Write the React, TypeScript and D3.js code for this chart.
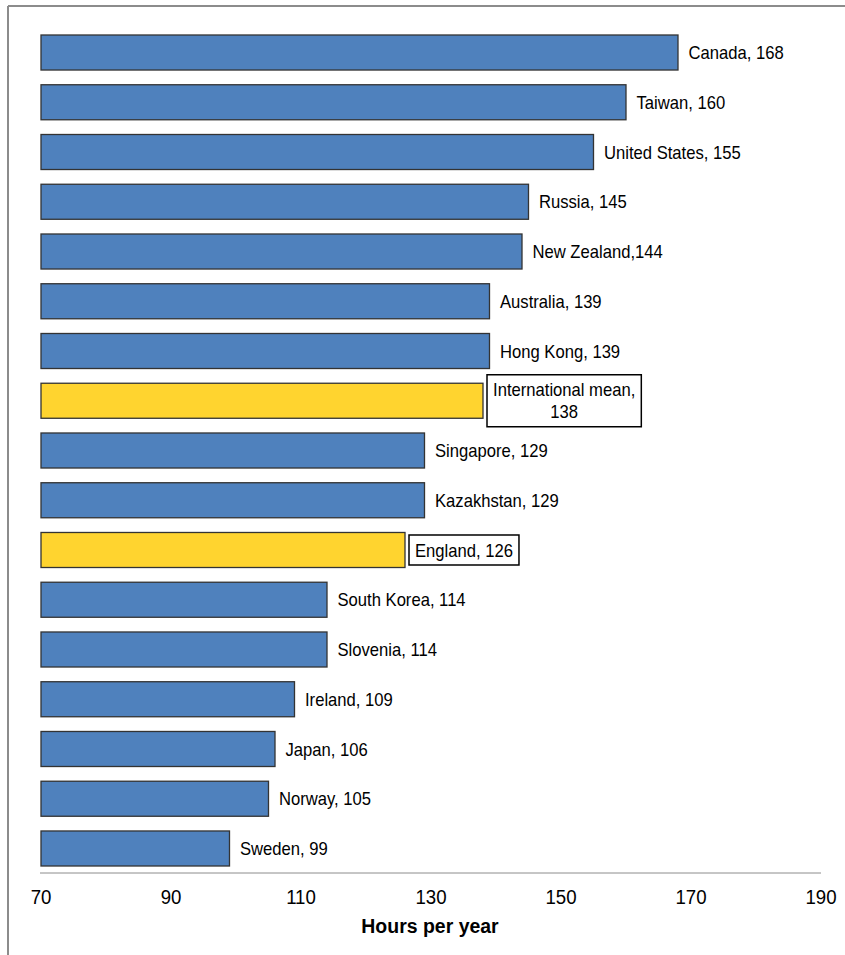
import React from "react";
import * as d3 from "d3";

const countries = [
  "Canada", "Taiwan", "United States", "Russia", "New Zealand", "Australia",
  "Hong Kong", "International mean", "Singapore", "Kazakhstan", "England",
  "South Korea", "Slovenia", "Ireland", "Japan", "Norway", "Sweden",
];
const hours = [168, 160, 155, 145, 144, 139, 139, 138, 129, 129, 126, 114, 114, 109, 106, 105, 99];
const highlighted = [false, false, false, false, false, false, false, true, false, false, true, false, false, false, false, false, false];
const labelLines = [
  ["Canada, 168"], ["Taiwan, 160"], ["United States, 155"], ["Russia, 145"],
  ["New Zealand,144"], ["Australia, 139"], ["Hong Kong, 139"],
  ["International mean,", "138"], ["Singapore, 129"], ["Kazakhstan, 129"],
  ["England, 126"], ["South Korea, 114"], ["Slovenia, 114"], ["Ireland, 109"],
  ["Japan, 106"], ["Norway, 105"], ["Sweden, 99"],
];
const xTicks = [70, 90, 110, 130, 150, 170, 190];
const xTitle = "Hours per year";

const W = 845;
const H = 955;
const FONT = "'Liberation Sans', Arial, sans-serif";

function measure(text: string, size: number): number {
  // approximate Arial widths
  const widths: Record<string, number> = {
    " ": 0.278, ",": 0.278, "I": 0.278, "i": 0.222, "l": 0.222, "t": 0.278, "r": 0.333,
    "m": 0.833, "f": 0.278, "j": 0.222,
  };
  let w = 0;
  for (const c of text) {
    if (widths[c] !== undefined) w += widths[c];
    else if (c >= "A" && c <= "Z") w += 0.667;
    else w += 0.556;
  }
  return w * size;
}

type TProps = {
  x: number; y: number; sx: number; size: number; anchor?: string; bold?: boolean; children: React.ReactNode;
};
function SText({ x, y, sx, size, anchor, bold, children }: TProps) {
  return (
    <text transform={`translate(${x},${y}) scale(${sx},1)`} dy="0.35em"
      textAnchor={anchor || "start"} fontSize={size} fontWeight={bold ? "bold" : "normal"} fill="#000">
      {children}
    </text>
  );
}

export default function App() {
  const x = d3.scaleLinear().domain([70, 190]).range([41, 821]);
  const y = d3.scaleBand<string>().domain(countries).range([35, 866]).paddingInner(0.296).paddingOuter(0);
  const bw = y.bandwidth();
  const labelSize = 19;
  const labelSx = 0.875;

  return (
    <svg width={W} height={H} style={{ position: "absolute", left: 0, top: 0 }} fontFamily={FONT}>
      <rect x={0} y={0} width={W} height={H} fill="#fff" />
      <line x1={8} y1={6} x2={W} y2={6} stroke="#8c8c8c" strokeWidth={2} />
      <line x1={8} y1={6} x2={8} y2={H} stroke="#8c8c8c" strokeWidth={2} />

      {countries.map((c, i) => {
        const y0 = y(c)!;
        const x1 = x(hours[i]);
        const cy = y0 + bw / 2;
        const lines = labelLines[i];
        const boxed = highlighted[i];
        const elems: React.ReactNode[] = [];
        elems.push(
          <rect key="bar" x={x(70)} y={y0} width={x1 - x(70)} height={bw}
            fill={boxed ? "#FFD42F" : "#4F81BD"} stroke="#333" strokeWidth={1.3} />
        );
        if (boxed) {
          const lh = 22;
          const maxW = Math.max(...lines.map((l) => measure(l, labelSize) * labelSx));
          const pad = 6;
          const bx = x1 + 4;
          const boxW = maxW + pad * 2;
          const boxH = lines.length * lh + 8;
          const cx = bx + boxW / 2;
          elems.push(
            <rect key="box" x={bx} y={cy - boxH / 2} width={boxW} height={boxH}
              fill="#fff" stroke="#000" strokeWidth={1.5} />
          );
          lines.forEach((l, k) => {
            elems.push(
              <SText key={"t" + k} x={cx} y={cy + (k - (lines.length - 1) / 2) * lh}
                sx={labelSx} size={labelSize} anchor="middle">{l}</SText>
            );
          });
        } else {
          elems.push(
            <SText key="t" x={x1 + 10.5} y={cy} sx={labelSx} size={labelSize}>{lines[0]}</SText>
          );
        }
        return <g key={c}>{elems}</g>;
      })}

      <line x1={40} y1={873} x2={821} y2={873} stroke="#8c8c8c" strokeWidth={1} />
      {xTicks.map((t) => (
        <SText key={t} x={x(t)} y={897} sx={0.91} size={20.5} anchor="middle">{t}</SText>
      ))}
      <SText x={430} y={926} sx={0.95} size={20.5} anchor="middle" bold>{xTitle}</SText>
    </svg>
  );
}
